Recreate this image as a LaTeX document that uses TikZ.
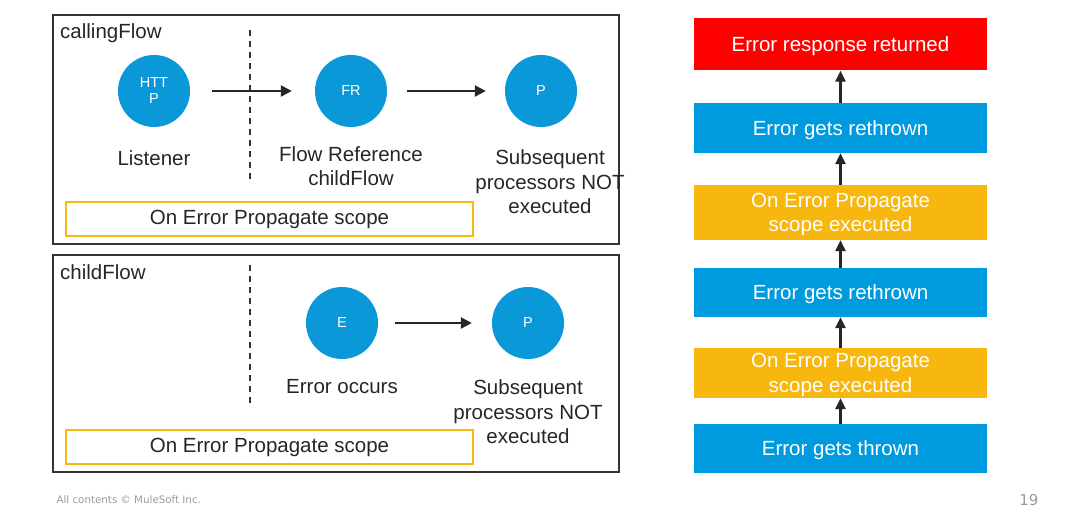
\documentclass[tikz,border=0pt]{standalone}
\usepackage{fontspec}
\setmainfont{Liberation Sans}
\newfontfamily\footfont{DejaVu Sans}
\usetikzlibrary{positioning, arrows.meta}
\definecolor{muleblue}{HTML}{0B98D8}
\definecolor{stepblue}{HTML}{009ADE}
\definecolor{scopeyellow}{HTML}{F7B70F}
\definecolor{errred}{HTML}{FF0000}
\definecolor{framegray}{HTML}{333333}
\definecolor{footgray}{HTML}{9A9A9A}

\begin{document}
\begin{tikzpicture}[x=1pt, y=-1pt,
		frame/.style={draw=framegray, line width=1.8pt, rectangle, minimum width=566pt, inner sep=0pt},
		proc/.style={circle, fill=muleblue, minimum size=72pt, inner sep=0pt, text=white, font=\fontsize{14.5}{16}\selectfont},
		lbl/.style={align=center, text=black!85, font=\fontsize{20.5}{24.5}\selectfont, inner sep=0pt},
		scope/.style={draw=scopeyellow, line width=2pt, rectangle, minimum width=407pt, minimum height=34pt, lbl},
		stepbox/.style={rectangle, minimum width=293pt, text=white, align=center, inner sep=0pt, text depth=0pt, font=\fontsize{20.5}{24.5}\selectfont},
		flow/.style={draw=black!85, line width=2.4pt, -{Triangle[length=11pt, width=11pt]}},
		up/.style={draw=black!85, line width=2.4pt, -{Triangle[length=11pt, width=10pt]}},
		divider/.style={dash pattern=on 6pt off 5pt, line width=1.6pt, draw=framegray}
		]
		\useasboundingbox (0,0) rectangle (1065,521);

		% calling flow
		\node[frame, minimum height=229pt] (calling) at (336,129.5) {};
		\node[lbl, anchor=west] (callingname) at (60,33) {callingFlow};
		\coordinate (d1top) at (250,30);
		\coordinate (d1bot) at (250,179);
		\draw[divider] (d1top) -- (d1bot);
		\node[proc, align=center] (http) at (154,91) {HTT\\P};
		\node[proc] (fr) at (351,91) {FR};
		\node[proc] (p1) at (541,91) {P};
		\draw[flow, shorten <=22pt, shorten >=23pt] (http) -- (fr);
		\draw[flow, shorten <=20pt, shorten >=19pt] (fr) -- (p1);
		\node[lbl] (listener) at (154,158) {Listener};
		\node[lbl] (frlbl) at (351,166) {Flow Reference\\childFlow};
		\node[lbl] (p1lbl) at (550,182) {Subsequent\\processors NOT\\executed};
		\node[scope] (scope1) at (269.5,219) {On Error Propagate scope};

		% child flow
		\node[frame, minimum height=217pt] (child) at (336,363.5) {};
		\node[lbl, anchor=west] (childname) at (60,272) {childFlow};
		\coordinate (d2top) at (250,265);
		\coordinate (d2bot) at (250,405);
		\draw[divider] (d2top) -- (d2bot);
		\node[proc] (err) at (342,323) {E};
		\node[proc] (p2) at (528,323) {P};
		\draw[flow, shorten <=17pt, shorten >=20pt] (err) -- (p2);
		\node[lbl] (errlbl) at (342,387) {Error occurs};
		\node[lbl] (p2lbl) at (528,412) {Subsequent\\processors NOT\\executed};
		\node[scope] (scope2) at (269.5,447) {On Error Propagate scope};

		% error path
		\node[stepbox, fill=errred, minimum height=52pt] (returned) at (840.5,44.5) {Error response returned};
		\node[stepbox, fill=stepblue, minimum height=50pt] (rethrown1) at (840.5,128) {Error gets rethrown};
		\node[stepbox, fill=scopeyellow, minimum height=55pt] (exec1) at (840.5,212.5) {On Error Propagate\\scope executed};
		\node[stepbox, fill=stepblue, minimum height=49pt] (rethrown2) at (840.5,292.5) {Error gets rethrown};
		\node[stepbox, fill=scopeyellow, minimum height=50pt] (exec2) at (840.5,373) {On Error Propagate\\scope executed};
		\node[stepbox, fill=stepblue, minimum height=49pt] (thrown) at (840.5,448.5) {Error gets thrown};
		\draw[up] (thrown) -- (exec2);
		\draw[up] (exec2) -- (rethrown2);
		\draw[up] (rethrown2) -- (exec1);
		\draw[up] (exec1) -- (rethrown1);
		\draw[up] (rethrown1) -- (returned);

		% footer
		\node[anchor=west, text=footgray, font=\footfont\fontsize{10.3}{12}\selectfont] (copy) at (53,500) {All contents © MuleSoft Inc.};
		\node[anchor=east, text=footgray, font=\footfont\fontsize{15}{17}\selectfont] (page) at (1042,500) {19};
	\end{tikzpicture}
\end{document}
